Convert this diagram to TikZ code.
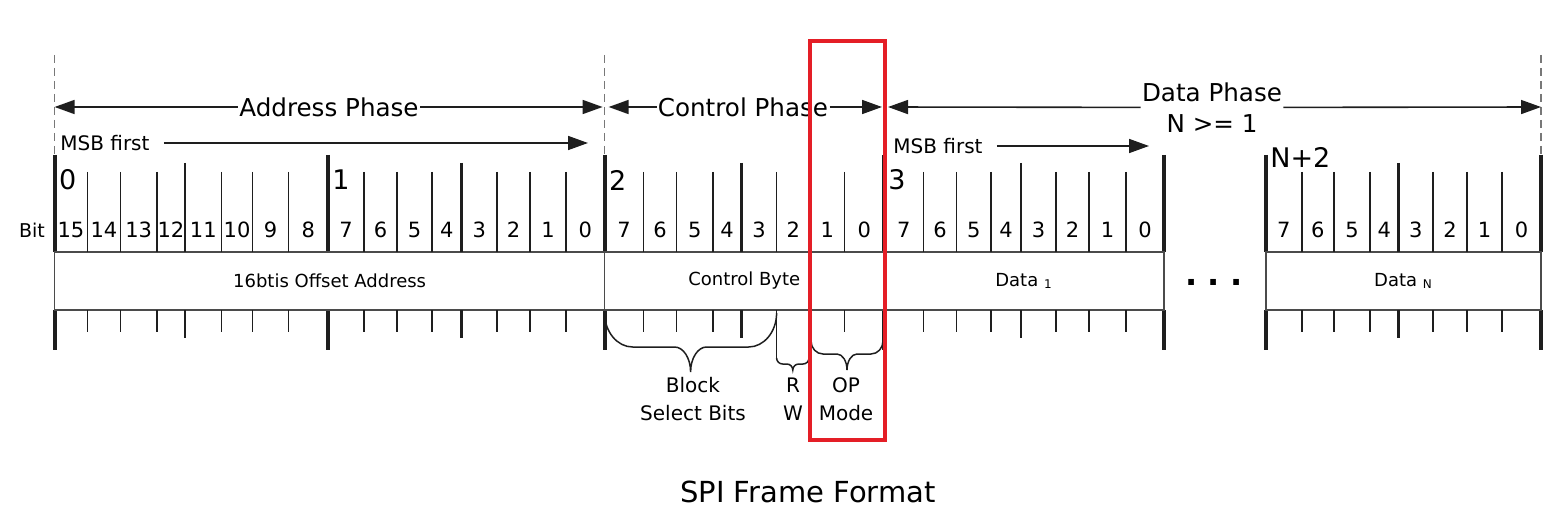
\documentclass[tikz,border=0pt]{standalone}
\usepackage{fontspec}
\setmainfont{DejaVu Sans}
\usetikzlibrary{positioning}
\usetikzlibrary{arrows.meta}

\definecolor{markred}{RGB}{228,30,38}
\definecolor{ink}{RGB}{30,30,30}

\tikzset{
	phase/.style={font=\fontsize{12.3}{15.5}\selectfont,inner sep=0.5pt,align=center},
	msb/.style={font=\fontsize{10}{12}\selectfont,inner sep=1pt,anchor=west},
	bytenum/.style={font=\fontsize{13.5}{14}\selectfont,inner sep=0pt,anchor=west},
	bitnum/.style={font=\fontsize{10.5}{12}\selectfont,inner sep=0pt},
	field/.style={font=\fontsize{9}{11}\selectfont,inner sep=0pt},
	bracelabel/.style={font=\fontsize{10}{14}\selectfont,align=center,inner sep=0pt},
	phasearrow/.style={ink,line width=0.8pt,-{Triangle[length=10pt,width=7pt]}},
	guide/.style={ink!60,line width=0.6pt,dash pattern=on 4pt off 2.5pt},
	bytebar/.style={ink,line width=2pt},
	boxline/.style={ink!80,line width=0.75pt},
	bracepath/.style={ink,line width=0.75pt},
}

\begin{document}
\begin{tikzpicture}[x=0.5pt,y=-0.5pt]
	\useasboundingbox (0,0) rectangle (1561,518);
	\foreach \x in {54.6,604.6,1541}
		\draw[guide] (\x,55) -- (\x,155);
	\coordinate (e0) at (54.6,107);
	\coordinate (e1) at (604.6,107);
	\coordinate (e2) at (884,107);
	\coordinate (e3) at (1541,107);
	\node[phase] (addr) at (329,107) {Address Phase};
	\node[phase] (ctrl) at (743,107) {Control Phase};
	\node[phase] (data) at (1212,107.5) {Data Phase\\N >= 1};
	\draw[phasearrow] (addr) -- (e0);
	\draw[phasearrow,shorten >=1pt] (addr) -- (e1);
	\draw[phasearrow,shorten >=2pt] (ctrl) -- (e1);
	\draw[phasearrow,shorten >=1pt] (ctrl) -- (e2);
	\draw[phasearrow,shorten >=2pt] (data) -- (e2);
	\draw[phasearrow] (data) -- (e3);
	\node[msb] (msb0) at (58,143) {MSB first};
	\coordinate (msb0end) at (588,143);
	\draw[phasearrow,shorten <=6pt] (msb0) -- (msb0end);
	\node[msb] (msb3) at (891,146) {MSB first};
	\coordinate (msb3end) at (1149,146);
	\draw[phasearrow,shorten <=6pt] (msb3) -- (msb3end);
	\foreach \x in {54.6,328,604.6,884,1164,1266,1541} {
		\draw[bytebar] (\x,155) -- (\x,252);
		\draw[bytebar] (\x,310) -- (\x,350);
	}
	\draw[boxline] (54.6,252) rectangle (1164,310);
	\draw[boxline] (1266,252) rectangle (1541,310);
	\draw[boxline] (604.6,252) -- (604.6,310) (884,252) -- (884,310);
	\node[field,font=\fontsize{9.5}{11}\selectfont] (bitrow) at (32,230) {Bit};
	\foreach \nm/\lbl/\ly/\lo/\top/\divs in {
		b0/0/180/54.6/15/{87.3,120.5,156.8,185,221.7,252.5,288.5,328},
		b1/1/180/328/7/{364,397,432,461.5,497,530,566,604.6},
		b2/2/180/604.6/7/{643.6,676.6,712.8,741.3,776.6,810,844.7,884},
		b3/3/180/884/7/{923.7,956.6,991,1021,1056,1089,1126,1164},
		bN/N+2/157/1266/7/{1301.8,1334,1370,1398.6,1433,1467,1502,1541}} {
		\node[bytenum] (\nm) at (\lo+4,\ly) {\lbl};
		\foreach \x [count=\i, remember=\x as \lastx (initially \lo)] in \divs {
			\pgfmathtruncatemacro\bitno{\top+1-\i}
			\node[bitnum] (\nm-\i) at ({(\x+\lastx)/2},230) {\bitno};
			\ifnum\i<8
				\pgfmathsetmacro\tick{\i==4 ? 163 : 172}
				\pgfmathsetmacro\tock{\i==4 ? 338 : 332}
				\pgfmathsetmacro\lw{\i==4 ? 1.2 : 0.75}
				\draw[ink,line width=\lw pt] (\x,\tick) -- (\x,252) (\x,310) -- (\x,\tock);
			\fi
		}
	}
	\draw[ink,line width=0.75pt] (776.6,310) -- (776.6,358);
	\node[field] (addrfield) at (329.6,281) {16btis Offset Address};
	\node[field] (ctrlfield) at (744.3,281) {Control Byte};
	\node[field] (data1) at (1024,281) {Data \textsubscript{1}};
	\node[field] (dataN) at (1403.5,281) {Data \textsubscript{N}};
	\node[font=\fontsize{16}{16}\selectfont\bfseries,inner sep=0pt] (dots) at (1214,282) {.\,\,.\,\,.};
	\foreach \xa/\xb/\ya/\yb/\yc/\r/\s in {604.6/776.6/313/347/372/28/16,776.6/809/358/364/370/6/6,811/883/341/354/370/12/10} {
		\pgfmathsetmacro\xm{(\xa+\xb)/2}
		\pgfmathsetmacro\ka{\ya+0.55*(\yb-\ya)}
		\pgfmathsetmacro\kc{\yc-0.55*(\yc-\yb)}
		\pgfmathsetmacro\rr{0.45*\r}
		\pgfmathsetmacro\ss{0.45*\s}
		\draw[bracepath] (\xa,\ya) .. controls (\xa,\ka) and (\xa+\rr,\yb) .. (\xa+\r,\yb)
			-- (\xm-\s,\yb) .. controls (\xm-\ss,\yb) and (\xm,\kc) .. (\xm,\yc)
			.. controls (\xm,\kc) and (\xm+\ss,\yb) .. (\xm+\s,\yb)
			-- (\xb-\r,\yb) .. controls (\xb-\rr,\yb) and (\xb,\ka) .. (\xb,\ya);
	}
	\node[bracelabel] (blocksel) at (693,399) {Block\\Select Bits};
	\node[bracelabel] (rw) at (793,399) {R\\W};
	\node[bracelabel] (opmode) at (846,399) {OP\\Mode};
	\draw[markred,line width=1.75pt] (810,41) rectangle (885,440);
	\node[font=\fontsize{14.5}{16}\selectfont] (title) at (808,492) {SPI Frame Format};
\end{tikzpicture}
\end{document}
